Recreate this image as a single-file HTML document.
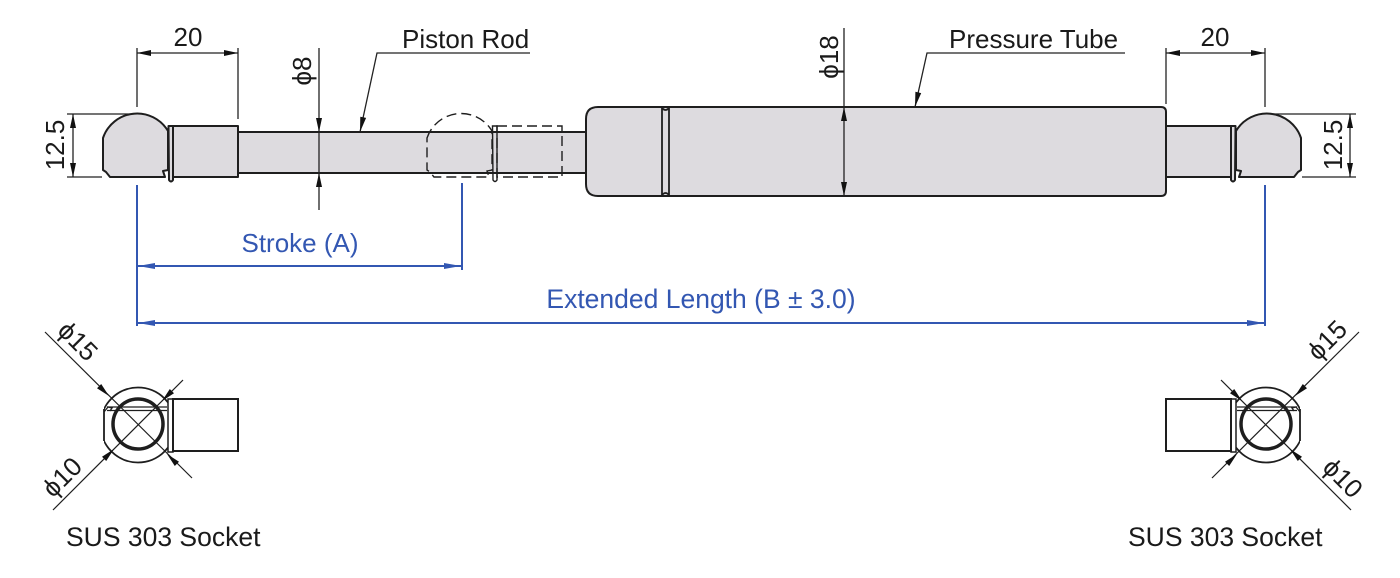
<!DOCTYPE html>
<html>
<head>
<meta charset="utf-8">
<style>
  html,body{margin:0;padding:0;background:#fff;}
  svg{display:block;}
  text{font-family:"Liberation Sans", Arial, sans-serif;}
</style>
</head>
<body>
<svg width="1400" height="578" viewBox="0 0 1400 578" xmlns="http://www.w3.org/2000/svg">
  <defs>
    <clipPath id="oc">
      <rect x="104" y="380" width="66" height="100"/>
    </clipPath>
  </defs>
  <rect x="0" y="0" width="1400" height="578" fill="#fff"/>

  <!-- ===== TOP VIEW ===== -->
  <!-- piston rod -->
  <rect x="238" y="132" width="350" height="41" fill="#dddbdf" stroke="#1e1e1e" stroke-width="2"/>

  <!-- left ball + lip + collar -->
  <g fill="#dddbdf" stroke="#1e1e1e" stroke-width="2" stroke-linejoin="round">
    <path d="M103,138 A36,36 0 0 1 168,131 L168,170 L163,171 L165,177 L110,177 L106,172 L103,170 Z"/>
    <path d="M168.5,126 L173,126 L173,180 Q171,183 169,180 Z"/>
    <rect x="173" y="126" width="65" height="51"/>
  </g>

  <!-- ghost (dashed) ball -->
  <g transform="translate(324,0)" fill="none" stroke="#1e1e1e" stroke-width="1.4">
    <path d="M103,138 A36,36 0 0 1 168,131 L168,170 L163,171 L165,177 L110,177 L106,172 L103,170 Z" stroke-dasharray="10,5"/>
    <path d="M168.5,126 L173,126 L173,180 Q171,183 169,180 Z"/>
    <rect x="173" y="126" width="65" height="51" stroke-dasharray="10,5"/>
  </g>

  <!-- pressure tube -->
  <g fill="#dddbdf" stroke="#1e1e1e" stroke-width="2">
    <rect x="1166" y="126" width="65" height="51"/>
    <path d="M598,107 L1161,107 Q1166,107 1166,112 L1166,191 Q1166,196 1161,196 L598,196 Q586,196 586,184 L586,119 Q586,107 598,107 Z"/>
  </g>
  <g stroke="#1e1e1e" stroke-width="1.8" fill="none">
    <line x1="662" y1="108" x2="662" y2="195"/>
    <line x1="669" y1="108" x2="669" y2="195"/>
    <path d="M662,108 Q665.5,112 669,108"/>
    <path d="M662,195 Q665.5,191 669,195"/>
  </g>

  <!-- right ball (mirrored) -->
  <g transform="translate(1404,0) scale(-1,1)" fill="#dddbdf" stroke="#1e1e1e" stroke-width="2" stroke-linejoin="round">
    <path d="M103,138 A36,36 0 0 1 168,131 L168,170 L163,171 L165,177 L110,177 L106,172 L103,170 Z"/>
    <path d="M168.5,126 L173,126 L173,180 Q171,183 169,180 Z"/>
  </g>

  <!-- ===== DIMENSIONS (black) ===== -->
  <g stroke="#222" stroke-width="1.3" fill="none">
    <!-- left 20 -->
    <line x1="137" y1="48" x2="137" y2="107"/>
    <line x1="238" y1="48" x2="238" y2="119"/>
    <line x1="137" y1="53" x2="238" y2="53"/>
    <!-- right 20 -->
    <line x1="1166" y1="48" x2="1166" y2="104"/>
    <line x1="1265" y1="48" x2="1265" y2="107"/>
    <line x1="1166" y1="53" x2="1265" y2="53"/>
    <!-- left 12.5 -->
    <line x1="67" y1="114" x2="134" y2="114"/>
    <line x1="67" y1="177" x2="102" y2="177"/>
    <line x1="73" y1="114" x2="73" y2="177"/>
    <!-- right 12.5 -->
    <line x1="1270" y1="114" x2="1356" y2="114"/>
    <line x1="1302" y1="177" x2="1356" y2="177"/>
    <line x1="1350" y1="114" x2="1350" y2="177"/>
    <!-- phi 8 -->
    <line x1="319" y1="48" x2="319" y2="210"/>
    <!-- phi 18 -->
    <line x1="844" y1="28" x2="844" y2="196"/>
    <!-- piston rod leader -->
    <polyline points="360,132 377,53 530,53"/>
    <!-- pressure tube leader -->
    <polyline points="915,107 927,53 1125,53"/>
  </g>
  <g fill="#111" stroke="none">
    <polygon points="137,53 151,50 151,56"/>
    <polygon points="238,53 224,50 224,56"/>
    <polygon points="1166,53 1180,50 1180,56"/>
    <polygon points="1265,53 1251,50 1251,56"/>
    <polygon points="73,114 70,128 76,128"/>
    <polygon points="73,177 70,163 76,163"/>
    <polygon points="1350,114 1347,128 1353,128"/>
    <polygon points="1350,177 1347,163 1353,163"/>
    <polygon points="319,132 316,118 322,118"/>
    <polygon points="319,173 316,187 322,187"/>
    <polygon points="844,107 841,121 847,121"/>
    <polygon points="844,196 841,182 847,182"/>
    <polygon points="360,132 366.1,117.9 360.3,116.7"/>
    <polygon points="915,107 921.2,93.1 915.4,91.7"/>
  </g>

  <!-- top labels -->
  <g font-size="26" fill="#1a1a1a">
    <text x="188" y="46" text-anchor="middle">20</text>
    <text x="1215" y="46" text-anchor="middle">20</text>
    <text x="402" y="48">Piston Rod</text>
    <text x="949" y="48">Pressure Tube</text>
    <text transform="translate(55,145) rotate(-90)" text-anchor="middle" y="9">12.5</text>
    <text transform="translate(1333,145) rotate(-90)" text-anchor="middle" y="9">12.5</text>
    <text transform="translate(302,71) rotate(-90)" text-anchor="middle" y="9">ϕ8</text>
    <text transform="translate(829,57) rotate(-90)" text-anchor="middle" y="9">ϕ18</text>
  </g>

  <!-- ===== BLUE DIMENSIONS ===== -->
  <g stroke="#3357b2" stroke-width="2" fill="none">
    <line x1="137" y1="185" x2="137" y2="326"/>
    <line x1="462" y1="183" x2="462" y2="270"/>
    <line x1="1265" y1="185" x2="1265" y2="326"/>
    <line x1="137" y1="266" x2="462" y2="266"/>
    <line x1="137" y1="323" x2="1265" y2="323"/>
  </g>
  <g fill="#3357b2">
    <polygon points="138,266 155,263 155,269"/>
    <polygon points="461,266 444,263 444,269"/>
    <polygon points="138,323 155,320 155,326"/>
    <polygon points="1264,323 1247,320 1247,326"/>
  </g>
  <g font-size="26" fill="#3357b2">
    <text x="300" y="252" text-anchor="middle">Stroke (A)</text>
    <text x="701" y="308" text-anchor="middle" font-size="26.5">Extended Length (B ± 3.0)</text>
  </g>

  <!-- ===== BOTTOM SOCKET VIEWS ===== -->
  <g id="sockL">
    <g fill="none" stroke="#1e1e1e">
      <circle cx="138" cy="425" r="37.5" stroke-width="1.8" clip-path="url(#oc)"/>
      <line x1="104" y1="409" x2="104" y2="441" stroke-width="1.8"/>
      <path d="M104,412 L108,407 L112,408 L110,411" stroke-width="1.3"/>
      <line x1="107" y1="407" x2="167" y2="407" stroke-width="1.3"/>
      <line x1="107" y1="410.5" x2="167" y2="410.5" stroke-width="1.3"/>
      <circle cx="138" cy="424" r="25" stroke-width="3.5"/>
      <line x1="45" y1="332" x2="192" y2="478" stroke-width="1.2"/>
      <line x1="183" y1="380" x2="53" y2="510" stroke-width="1.2"/>
      <rect x="168" y="399" width="5" height="53" stroke-width="1.5" fill="#fff"/>
      <rect x="173" y="399" width="65" height="52" stroke-width="2" fill="#fff"/>
    </g>
    <g fill="#111">
      <polygon points="109,396 97,388.2 101.2,384"/>
      <polygon points="167,454 174.8,466 179,461.8"/>
      <polygon points="162,401 174,393.2 169.8,389"/>
      <polygon points="114,449 106.2,461 102,456.8"/>
    </g>
  </g>

  <g transform="translate(1404,0) scale(-1,1)">
    <g fill="none" stroke="#1e1e1e">
      <circle cx="138" cy="425" r="37.5" stroke-width="1.8" clip-path="url(#oc)"/>
      <line x1="104" y1="409" x2="104" y2="441" stroke-width="1.8"/>
      <path d="M104,412 L108,407 L112,408 L110,411" stroke-width="1.3"/>
      <line x1="107" y1="407" x2="167" y2="407" stroke-width="1.3"/>
      <line x1="107" y1="410.5" x2="167" y2="410.5" stroke-width="1.3"/>
      <circle cx="138" cy="424" r="25" stroke-width="3.5"/>
      <line x1="45" y1="332" x2="192" y2="478" stroke-width="1.2"/>
      <line x1="183" y1="380" x2="53" y2="510" stroke-width="1.2"/>
      <rect x="168" y="399" width="5" height="53" stroke-width="1.5" fill="#fff"/>
      <rect x="173" y="399" width="65" height="52" stroke-width="2" fill="#fff"/>
    </g>
    <g fill="#111">
      <polygon points="109,396 97,388.2 101.2,384"/>
      <polygon points="167,454 174.8,466 179,461.8"/>
      <polygon points="162,401 174,393.2 169.8,389"/>
      <polygon points="114,449 106.2,461 102,456.8"/>
    </g>
  </g>

  <!-- bottom labels -->
  <g font-size="26" fill="#1a1a1a">
    <text transform="translate(78,341) rotate(45)" text-anchor="middle" y="9">ϕ15</text>
    <text transform="translate(62,477) rotate(-45)" text-anchor="middle" y="9">ϕ10</text>
    <text transform="translate(1327,340) rotate(-45)" text-anchor="middle" y="9">ϕ15</text>
    <text transform="translate(1343,478) rotate(45)" text-anchor="middle" y="9">ϕ10</text>
    <text x="66" y="546" font-size="26.5">SUS 303 Socket</text>
    <text x="1128" y="546" font-size="26.5">SUS 303 Socket</text>
  </g>
</svg>
</body>
</html>
